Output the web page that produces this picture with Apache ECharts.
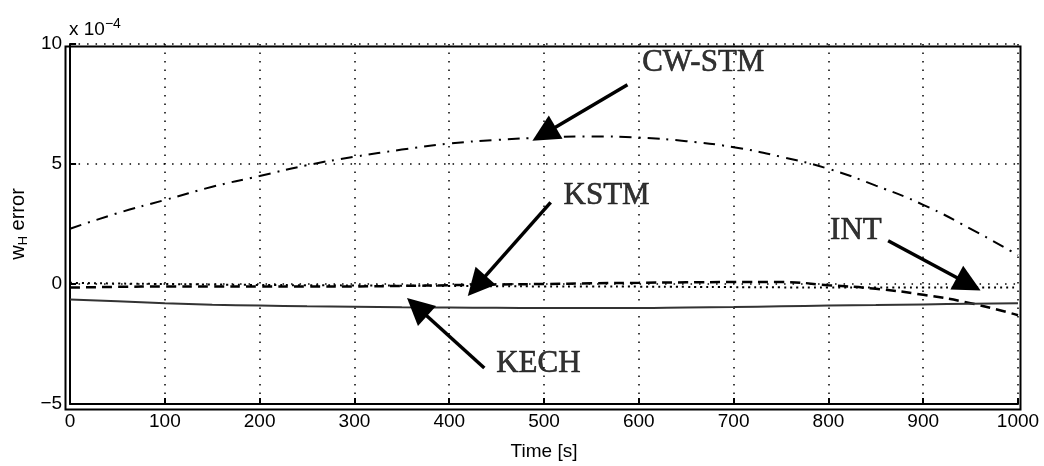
<!DOCTYPE html>
<html>
<head>
<meta charset="utf-8">
<script src="https://cdn.jsdelivr.net/npm/echarts@6/dist/echarts.min.js"></script>
<style>
  html, body { margin: 0; padding: 0; background: #fff; }
  #chart { width: 1044px; height: 466px; }
</style>
</head>
<body>
<div id="chart"></div>
<script>
// time axis (s) and errors in units of 1e-4
const times = [0, 50, 100, 150, 200, 250, 300, 350, 400, 450, 500, 550, 600, 650, 700, 750, 800, 850, 900, 950, 1000];
const cwstm = [2.3, 2.95, 3.5, 4.05, 4.5, 4.95, 5.3, 5.6, 5.85, 6.0, 6.1, 6.15, 6.1, 5.95, 5.7, 5.3, 4.8, 4.1, 3.3, 2.3, 1.2];
const kstm  = [-0.15, -0.12, -0.1, -0.1, -0.1, -0.1, -0.1, -0.08, -0.05, -0.02, 0, 0.03, 0.05, 0.07, 0.08, 0.08, -0.05, -0.2, -0.45, -0.8, -1.3];
const intg  = [0.05, 0.02, 0, -0.02, -0.04, -0.05, -0.06, -0.07, -0.08, -0.09, -0.1, -0.1, -0.11, -0.12, -0.13, -0.14, -0.15, -0.15, -0.15, -0.15, -0.15];
const kech  = [-0.65, -0.72, -0.8, -0.86, -0.9, -0.93, -0.95, -0.97, -0.98, -0.99, -1.0, -1.0, -1.0, -0.98, -0.96, -0.93, -0.9, -0.88, -0.85, -0.82, -0.8];

// annotations: [label, text t, text v, tail t, tail v, tip t, tip v]
const notes = [
  ["CW-STM", 668, 9.2, 588, 8.3, 500, 6.25],
  ["KSTM", 566, 3.67, 507, 3.4, 429, -0.08],
  ["INT", 829, 2.2, 863, 1.8, 948, 0.0],
  ["KECH", 494, -3.33, 437, -3.5, 366, -0.96]
];

const pair = (arr) => times.map((t, i) => [t, arr[i]]);

const chart = echarts.init(document.getElementById("chart"));

const axisFont = { fontFamily: "Liberation Sans", fontSize: 19, color: "#000" };

const option = {
  animation: false,
  backgroundColor: "#fff",
  title: {
    text: "x 10{s|−4}",
    left: 64,
    top: 12,
    textStyle: {
      fontFamily: "Liberation Sans", fontSize: 19, color: "#000", fontWeight: "normal",
      rich: { s: { fontSize: 14, verticalAlign: "top", padding: [0, 0, 12, 0], fontFamily: "Liberation Sans" } }
    }
  },
  grid: { left: 63, right: 26, top: 44, bottom: 59 },
  xAxis: {
    type: "value",
    min: 0, max: 1000, interval: 100,
    name: "Time [s]",
    nameLocation: "middle",
    nameGap: 38,
    nameTextStyle: axisFont,
    axisLine: { show: true, onZero: false, lineStyle: { color: "#000", width: 2 } },
    axisTick: { show: true, inside: true, length: 6, lineStyle: { color: "#000", width: 2 } },
    axisLabel: { ...axisFont, margin: 8, formatter: (v) => String(v) },
    splitLine: { show: true, lineStyle: { color: "#000", width: 1.5, type: [1.5, 7] } }
  },
  yAxis: {
    type: "value",
    min: -5, max: 10, interval: 5,
    name: "w{sub|H} error",
    nameLocation: "middle",
    nameRotate: 90,
    nameGap: 30,
    nameTextStyle: {
      ...axisFont,
      fontSize: 20,
      rich: { sub: { fontFamily: "Liberation Sans", fontSize: 13, color: "#000", verticalAlign: "bottom", padding: [10, 0, 0, 0] } }
    },
    axisLine: { show: true, onZero: false, lineStyle: { color: "#000", width: 2 } },
    axisTick: { show: true, inside: true, length: 6, lineStyle: { color: "#000", width: 2 } },
    axisLabel: { ...axisFont, margin: 8, formatter: (v) => v < 0 ? "\u2212" + Math.abs(v) : String(v) },
    splitLine: { show: true, lineStyle: { color: "#000", width: 1.5, type: [1.5, 7] } }
  },
  graphic: [
    // box on top and right like the MATLAB axes
    { type: "rect", left: 63, top: 44, shape: { width: 955, height: 363 }, style: { fill: "none", stroke: "#000", lineWidth: 2 }, silent: true, z: 10 }
  ],
  series: [
    {
      name: "CW-STM", type: "line", data: pair(cwstm), smooth: true, showSymbol: false,
      lineStyle: { color: "#000", width: 2, type: [12, 7, 2, 7] }
    },
    {
      name: "KSTM", type: "line", data: pair(kstm), smooth: true, showSymbol: false,
      lineStyle: { color: "#000", width: 2.5, type: [10, 6] }
    },
    {
      name: "INT", type: "line", data: pair(intg), smooth: true, showSymbol: false,
      lineStyle: { color: "#000", width: 2, type: [2, 4] }
    },
    {
      name: "KECH", type: "line", data: pair(kech), smooth: true, showSymbol: false,
      lineStyle: { color: "#333", width: 2 }
    },
    {
      name: "arrows", type: "line", data: [], silent: true,
      markLine: {
        silent: true,
        symbol: ["none", "triangle"],
        symbolSize: 27,
        label: { show: false },
        lineStyle: { color: "#000", width: 3.5, type: "solid" },
        data: notes.map((n) => [{ coord: [n[3], n[4]] }, { coord: [n[5], n[6]] }])
      }
    },
    {
      name: "labels", type: "scatter", symbolSize: 0, silent: true,
      data: notes.map((n) => ({ value: [n[1], n[2]], name: n[0] })),
      label: {
        show: true, position: "inside", formatter: (p) => p.name,
        fontFamily: "Liberation Serif", fontSize: 31, color: "#000",
        textBorderColor: "#000", textBorderWidth: 0.6
      }
    }
  ]
};

chart.setOption(option);
</script>
</body>
</html>
